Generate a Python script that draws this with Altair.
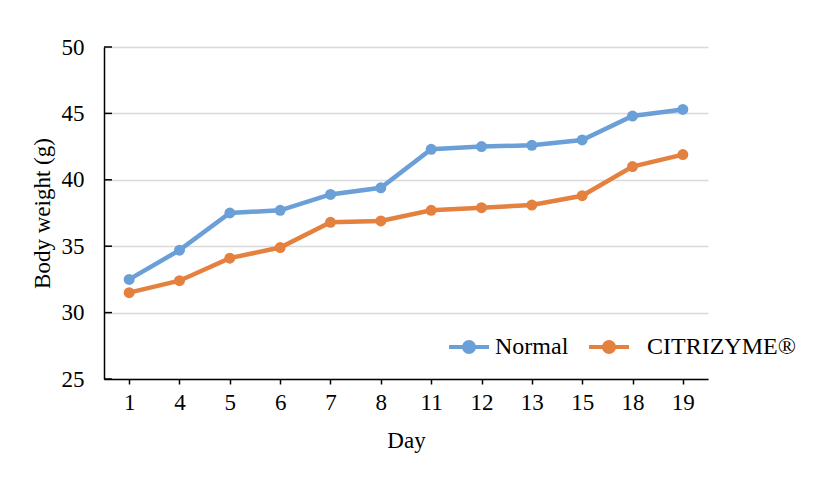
import altair as alt
import pandas as pd

days = ["1", "4", "5", "6", "7", "8", "11", "12", "13", "15", "18", "19"]
normal = [32.5, 34.7, 37.5, 37.7, 38.9, 39.4, 42.3, 42.5, 42.6, 43.0, 44.8, 45.3]
citrizyme = [31.5, 32.4, 34.1, 34.9, 36.8, 36.9, 37.7, 37.9, 38.1, 38.8, 41.0, 41.9]
series_names = ["Normal", "\u200b\u00a0\u00a0CITRIZYME®"]
colors = ["#6A9FD7", "#E5813F"]
y_ticks = [25, 30, 35, 40, 45, 50]

rows = []
for d, a, b in zip(days, normal, citrizyme):
    rows.append({"Day": d, "Group": series_names[0], "Weight": a})
    rows.append({"Day": d, "Group": series_names[1], "Weight": b})
df = pd.DataFrame(rows)
ticks_df = pd.DataFrame({"v": y_ticks})

FONT = "Liberation Serif"

x_enc = alt.X("Day:N", sort=days,
              scale=alt.Scale(type="point", padding=0.5),
              axis=alt.Axis(title="Day", labelAngle=0, grid=False,
                            domainColor="#000000", domainWidth=1.5,
                            tickColor="#000000", tickSize=5, tickWidth=1.5,
                            labelPadding=7, titlePadding=15))
y_scale = alt.Scale(domain=[25, 50], nice=False, zero=False)
y_enc = alt.Y("Weight:Q", scale=y_scale,
              axis=alt.Axis(title="Body weight (g)", values=y_ticks,
                            grid=True, gridColor="#D9D9D9", gridWidth=1.5,
                            domainColor="#000000", domainWidth=1.5,
                            ticks=False, labelPadding=20, titlePadding=7))

dot_path = ("M-1,0H1"
            "M-0.25,0A0.25,0.25 0 1,1 0.25,0A0.25,0.25 0 1,1 -0.25,0"
            "M-0.13,0A0.13,0.13 0 1,1 0.13,0A0.13,0.13 0 1,1 -0.13,0"
            "M-0.03,0A0.03,0.03 0 1,1 0.03,0A0.03,0.03 0 1,1 -0.03,0")

color_enc = alt.Color("Group:N", sort=series_names,
                      scale=alt.Scale(domain=series_names, range=colors),
                      legend=alt.Legend(title=None, orient="none",
                                        direction="horizontal",
                                        legendX=343, legendY=278,
                                        symbolType=dot_path, symbolSize=1600,
                                        symbolStrokeWidth=4,
                                        labelFont=FONT, labelFontSize=24,
                                        labelColor="#000000", labelOffset=4,
                                        labelLimit=300,
                                        columnPadding=12, padding=0))

lines = alt.Chart(df).mark_line(strokeWidth=4.5).encode(
    x=x_enc, y=y_enc, color=color_enc)
points = alt.Chart(df).mark_point(filled=True, size=120, opacity=1).encode(
    x=x_enc, y=y_enc, color=alt.Color("Group:N", sort=series_names,
                                      scale=alt.Scale(domain=series_names, range=colors),
                                      legend=None))
yticks = alt.Chart(ticks_df).mark_rule(color="#000000", strokeWidth=1.5).encode(
    x=alt.value(0), x2=alt.value(8), y=alt.Y("v:Q", scale=y_scale))

chart = alt.layer(lines, points, yticks).properties(
    width=604, height=332,
    background="#ffffff",
    autosize=alt.AutoSizeParams(type="none"),
    padding={"left": 96, "top": 39, "right": 110, "bottom": 100},
).configure_view(stroke=None).configure_axis(
    labelFont=FONT, titleFont=FONT, labelFontSize=23, titleFontSize=23,
    labelColor="#000000", titleColor="#000000", titleFontWeight="normal"
)

chart.save("out.html", embed_options={"renderer": "svg", "actions": False})
